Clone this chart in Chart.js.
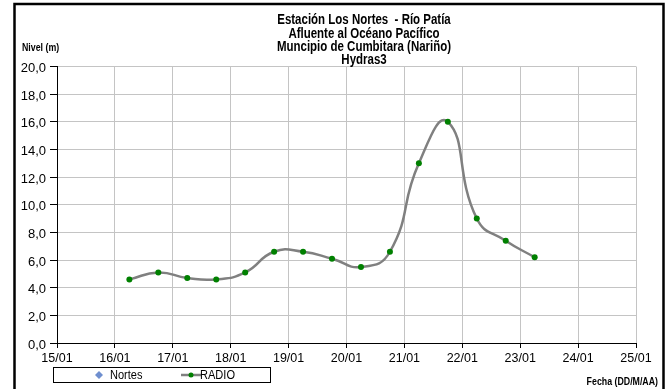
<!DOCTYPE html>
<html>
<head>
<meta charset="utf-8">
<script src="https://cdn.jsdelivr.net/npm/chart.js@4"></script>
<style>
  html, body { margin: 0; padding: 0; background: #fff; }
  #wrap { width: 668px; height: 389px; }
</style>
</head>
<body>
<div id="wrap"><canvas id="chart" width="668" height="389"></canvas></div>
<script>
// Title lines
const titleLines = [
    'Estación Los Nortes  - Río Patía',
    'Afluente al Océano Pacífico',
    'Muncipio de Cumbitara (Nariño)',
    'Hydras3'
];

// X axis: days of January
const dayTicks = ['15/01', '16/01', '17/01', '18/01', '19/01', '20/01', '21/01', '22/01', '23/01', '24/01', '25/01'];
const dayMin = 15;
const dayMax = 25;

// RADIO readings (day of month, 06:00 and 18:00)
const radioTime = [16.25, 16.75, 17.25, 17.75, 18.25, 18.75, 19.25, 19.75, 20.25, 20.75, 21.25, 21.75, 22.25, 22.75, 23.25];
const radioLevel = [4.6, 5.1, 4.7, 4.6, 5.1, 6.6, 6.6, 6.1, 5.5, 6.6, 13.0, 16.0, 9.0, 7.4, 6.2];

// Nortes has no readings in this window
const nortesTime = [];
const nortesLevel = [];

const FONT = '"Liberation Sans", Arial, sans-serif';

// text squeezed horizontally, like the exported picture
function narrowText(ctx, text, x, y, sx) {
    ctx.save();
    ctx.translate(x, y);
    ctx.scale(sx, 1);
    ctx.fillText(text, 0, 0);
    ctx.restore();
}

// frame, titles, axis names and legend
const decor = {
    id: 'decor',
    beforeDraw(chart) {
        const ctx = chart.ctx;
        ctx.save();
        ctx.fillStyle = '#fff';
        ctx.fillRect(0, 0, chart.width, chart.height);
        ctx.restore();
    },
    afterDraw(chart) {
        const ctx = chart.ctx;
        ctx.save();

        // outer frame (bottom is cut off)
        ctx.strokeStyle = '#000';
        ctx.lineWidth = 2.5;
        ctx.beginPath();
        ctx.moveTo(14.5, 389);
        ctx.lineTo(14.5, 4);
        ctx.lineTo(663.5, 4);
        ctx.lineTo(663.5, 389);
        ctx.stroke();

        // titles
        ctx.fillStyle = '#000';
        ctx.textAlign = 'center';
        ctx.textBaseline = 'middle';
        ctx.font = 'bold 14px ' + FONT;
        titleLines.forEach((t, i) => narrowText(ctx, t, 364, 20.5 + i * 13.3, 0.82));

        ctx.font = 'bold 10px ' + FONT;
        ctx.textAlign = 'left';
        narrowText(ctx, 'Nivel (m)', 22, 48.5, 0.88);
        ctx.textAlign = 'right';
        narrowText(ctx, 'Fecha (DD/M/AA)', 658, 382, 0.88);

        // legend
        ctx.lineWidth = 1;
        ctx.strokeRect(53.5, 367.5, 217, 15);
        const ds = chart.data.datasets;
        ctx.font = '12px ' + FONT;
        ctx.textAlign = 'left';

        // Nortes: diamond marker
        ctx.fillStyle = ds[0].pointBackgroundColor;
        ctx.beginPath();
        ctx.moveTo(99, 371);
        ctx.lineTo(103, 375);
        ctx.lineTo(99, 379);
        ctx.lineTo(95, 375);
        ctx.closePath();
        ctx.fill();
        ctx.fillStyle = '#000';
        narrowText(ctx, ds[0].label, 110, 376, 0.92);

        // RADIO: line with dot
        ctx.strokeStyle = ds[1].borderColor;
        ctx.lineWidth = 2.5;
        ctx.beginPath();
        ctx.moveTo(181, 375);
        ctx.lineTo(201, 375);
        ctx.stroke();
        ctx.fillStyle = ds[1].pointBackgroundColor;
        ctx.beginPath();
        ctx.arc(191, 375, 2.5, 0, Math.PI * 2);
        ctx.fill();
        ctx.fillStyle = '#000';
        narrowText(ctx, ds[1].label, 200, 376, 0.92);

        ctx.restore();
    }
};

new Chart(document.getElementById('chart'), {
    type: 'line',
    data: {
        datasets: [
            {
                label: 'Nortes',
                data: nortesTime.map((t, i) => ({ x: t, y: nortesLevel[i] })),
                borderColor: '#6f8fcf',
                pointBackgroundColor: '#6f8fcf',
                pointStyle: 'rectRot',
                showLine: false
            },
            {
                label: 'RADIO',
                data: radioTime.map((t, i) => ({ x: t, y: radioLevel[i] })),
                borderColor: '#808080',
                borderWidth: 2.5,
                tension: 0.5,
                pointRadius: 3,
                pointHoverRadius: 3,
                pointBackgroundColor: '#008000',
                pointBorderWidth: 0
            }
        ]
    },
    options: {
        responsive: false,
        animation: false,
        layout: { padding: { top: 66.5, right: 32, left: 0, bottom: 0 } },
        plugins: {
            legend: { display: false },
            title: { display: false },
            tooltip: { enabled: false }
        },
        scales: {
            x: {
                type: 'linear',
                min: dayMin,
                max: dayMax,
                afterFit: (s) => { s.height = 46; },
                ticks: {
                    stepSize: 1,
                    color: '#000',
                    font: { family: FONT, size: 12.5 },
                    padding: 3,
                    maxRotation: 0,
                    callback: (v) => dayTicks[v - dayMin]
                },
                grid: { color: '#c4c4c4', tickColor: '#000', tickLength: 5 },
                border: { color: '#000', width: 1 }
            },
            y: {
                min: 0,
                max: 20,
                afterFit: (s) => { s.width = 57; },
                ticks: {
                    stepSize: 2,
                    color: '#000',
                    font: { family: FONT, size: 13 },
                    padding: 4,
                    labelOffset: 2,
                    callback: (v) => v.toFixed(1).replace('.', ',')
                },
                grid: { color: '#c4c4c4', tickColor: '#000', tickLength: 7 },
                border: { color: '#000', width: 1 }
            }
        }
    },
    plugins: [decor]
});
</script>
</body>
</html>
